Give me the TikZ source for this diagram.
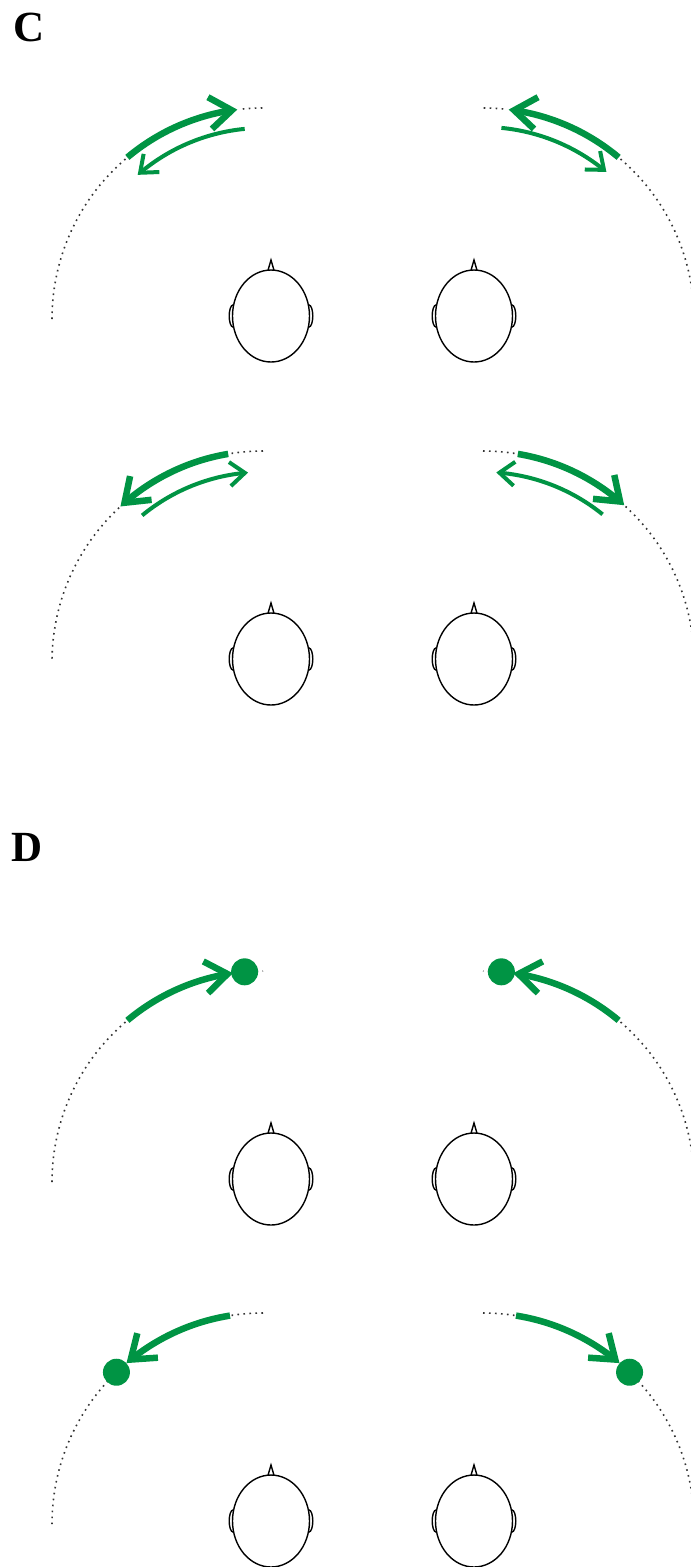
\documentclass[tikz,border=0pt]{standalone}
\usepackage{fontspec}
\setmainfont{Liberation Serif}
\usetikzlibrary{arrows.meta,bending}
\definecolor{eeggreen}{RGB}{0,148,68}
\tikzset{
  headpic/.pic={
    \draw[headline, fill=white] (-38,0) ellipse [x radius=3.8, y radius=11];
    \draw[headline, fill=white] (38,0) ellipse [x radius=3.8, y radius=11];
    \draw[headline, fill=white] (-3.5,44) -- (0,56) -- (3.5,44);
    \draw[headline, fill=white] (0,0) ellipse [x radius=38.5, y radius=46];
  }
}
\begin{document}
\begin{tikzpicture}[x=1pt,y=1pt,
  dotarc/.style={line width=1.6pt, dash pattern=on 1.6pt off 4.4pt, black!80},
  thickarr/.style={line width=6.5pt, eeggreen, -{Straight Barb[length=22pt,width=32pt]}},
  thinarr/.style={line width=4pt, eeggreen, -{Straight Barb[length=15pt,width=24pt]}},
  headline/.style={line width=1.4pt, black},
  panellabel/.style={font=\fontsize{43}{43}\selectfont\bfseries, inner sep=0pt, anchor=base west},
  gdot/.style={circle, fill=eeggreen, minimum size=27pt, inner sep=0pt}
]
\clip (0,0) rectangle (691,-1567);
\fill[white] (0,0) rectangle (691,-1567);

% labels
\node[panellabel] (labC) at (13,-41) {C};
\node[panellabel] (labD) at (11,-861) {D};

% arc centres
\coordinate (cL1) at (263,-319);  \coordinate (cR1) at (483,-319);
\coordinate (cL2) at (263,-662);  \coordinate (cR2) at (483,-662);
\coordinate (cL3) at (263,-1182); \coordinate (cR3) at (483,-1182);
\coordinate (cL4) at (263,-1524); \coordinate (cR4) at (483,-1524);

% heads
\pic at (271,-316) {headpic};  \pic at (474,-316) {headpic};
\pic at (271,-659) {headpic};  \pic at (474,-659) {headpic};
\pic at (271,-1179) {headpic}; \pic at (474,-1179) {headpic};
\pic at (271,-1521) {headpic}; \pic at (474,-1521) {headpic};

% ---------- C row 1 ----------
\draw[dotarc] (cL1) ++(180:211) arc[start angle=180, end angle=130, radius=211];
\draw[dotarc] (cL1) ++(95.5:211) arc[start angle=95.5, end angle=90, radius=211];
\draw[thickarr] (cL1) ++(130:211) arc[start angle=130, end angle=97, radius=211];
\draw[thinarr] (cL1) ++(95.5:191) arc[start angle=95.5, end angle=131, radius=191];

\draw[dotarc] (cR1) ++(0:211) arc[start angle=0, end angle=50, radius=211];
\draw[dotarc] (cR1) ++(84.5:211) arc[start angle=84.5, end angle=90, radius=211];
\draw[thickarr] (cR1) ++(50:211) arc[start angle=50, end angle=83, radius=211];
\draw[thinarr] (cR1) ++(84.5:192) arc[start angle=84.5, end angle=50, radius=192];

% ---------- C row 2 ----------
\draw[dotarc] (cL2) ++(90:211) arc[start angle=90, end angle=99.5, radius=211];
\draw[dotarc] (cL2) ++(133:211) arc[start angle=133, end angle=180, radius=211];
\draw[thickarr] (cL2) ++(99.5:211) arc[start angle=99.5, end angle=132.5, radius=211];
\draw[thinarr] (cL2) ++(129.5:190) arc[start angle=129.5, end angle=94.5, radius=190];

\draw[dotarc] (cR2) ++(90:211) arc[start angle=90, end angle=80.5, radius=211];
\draw[dotarc] (cR2) ++(47.5:211) arc[start angle=47.5, end angle=0, radius=211];
\draw[thickarr] (cR2) ++(80.5:211) arc[start angle=80.5, end angle=48, radius=211];
\draw[thinarr] (cR2) ++(51:190) arc[start angle=51, end angle=86, radius=190];

% ---------- D row 1 ----------
\draw[dotarc] (cL3) ++(180:211) arc[start angle=180, end angle=130, radius=211];
\draw[dotarc] (cL3) ++(95:211) arc[start angle=95, end angle=90, radius=211];
\path (cL3) ++(95:211) node[gdot] (dL3) {};
\draw[thickarr] (cL3) ++(130:211) arc[start angle=130, end angle=98.2, radius=211];

\draw[dotarc] (cR3) ++(0:211) arc[start angle=0, end angle=50, radius=211];
\draw[dotarc] (cR3) ++(85:211) arc[start angle=85, end angle=90, radius=211];
\path (cR3) ++(85:211) node[gdot] (dR3) {};
\draw[thickarr] (cR3) ++(50:211) arc[start angle=50, end angle=81.8, radius=211];

% ---------- D row 2 ----------
\draw[dotarc] (cL4) ++(90:211) arc[start angle=90, end angle=99, radius=211];
\draw[dotarc] (cL4) ++(134:211) arc[start angle=134, end angle=180, radius=211];
\path (cL4) ++(134:211) node[gdot] (dL4) {};
\draw[thickarr] (cL4) ++(99:211) arc[start angle=99, end angle=130.3, radius=211];

\draw[dotarc] (cR4) ++(90:211) arc[start angle=90, end angle=81, radius=211];
\draw[dotarc] (cR4) ++(46:211) arc[start angle=46, end angle=0, radius=211];
\path (cR4) ++(46:211) node[gdot] (dR4) {};
\draw[thickarr] (cR4) ++(81:211) arc[start angle=81, end angle=49.7, radius=211];
\end{tikzpicture}
\end{document}
